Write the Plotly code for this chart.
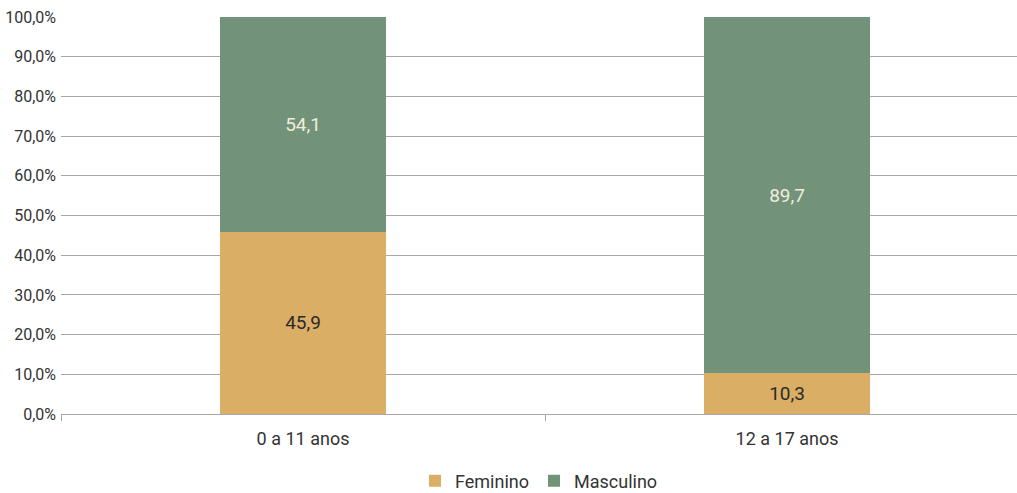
import plotly.graph_objects as go

categories = ["0 a 11 anos", "12 a 17 anos"]
feminino = [45.9, 10.3]
masculino = [54.1, 89.7]
y_ticks = [0, 10, 20, 30, 40, 50, 60, 70, 80, 90, 100]
y_tick_labels = ["0,0%", "10,0%", "20,0%", "30,0%", "40,0%", "50,0%",
                 "60,0%", "70,0%", "80,0%", "90,0%", "100,0%"]

FONT = "Roboto, Liberation Sans, sans-serif"

fig = go.Figure()
fig.add_trace(go.Bar(
    name="Feminino", x=categories, y=feminino,
    marker=dict(color="#DAAE65", line=dict(width=0)),
    width=0.343,
    texttemplate="%{y:.1f}", textposition="inside", insidetextanchor="middle",
    textfont=dict(color="#2b2b2b", size=19, family=FONT),
))
fig.add_trace(go.Bar(
    name="Masculino", x=categories, y=masculino,
    marker=dict(color="#729379", line=dict(width=0)),
    width=0.343,
    texttemplate="%{y:.1f}", textposition="inside", insidetextanchor="middle",
    textfont=dict(color="#F1ECDC", size=19, family=FONT),
))

fig.update_layout(
    barmode="stack",
    width=1017, height=493,
    margin=dict(l=61, r=0, t=17, b=79, autoexpand=False),
    paper_bgcolor="white", plot_bgcolor="white",
    separators=",.",
    font=dict(family=FONT, size=17, color="#333333"),
    legend=dict(
        orientation="h", x=0.5, xanchor="center", y=-0.169, yanchor="middle",
        font=dict(size=18, color="#333333", family=FONT),
        traceorder="normal", itemwidth=30,
    ),
    showlegend=True,
)
fig.update_xaxes(
    type="category", range=[-0.5, 1.475], automargin=False,
    showgrid=False, showline=False, zeroline=False,
    ticks="outside", tickson="boundaries", ticklen=6, tickcolor="#A6A6A6", tickwidth=1,
    ticklabelstandoff=12,
    tickfont=dict(size=18, color="#333333", family=FONT),
)
fig.update_yaxes(
    range=[0, 100], tickvals=y_ticks, ticktext=y_tick_labels, automargin=False,
    showgrid=True, gridcolor="#A8A8A8", gridwidth=1,
    zeroline=True, zerolinecolor="#A8A8A8", zerolinewidth=1,
    showline=False, ticks="", ticklabelstandoff=4,
    tickfont=dict(size=16, color="#333333", family=FONT),
)

fig.write_html(
    "out.html",
    config={"displayModeBar": False},
    post_script="document.body.style.margin='0';document.body.style.overflow='hidden';",
)
